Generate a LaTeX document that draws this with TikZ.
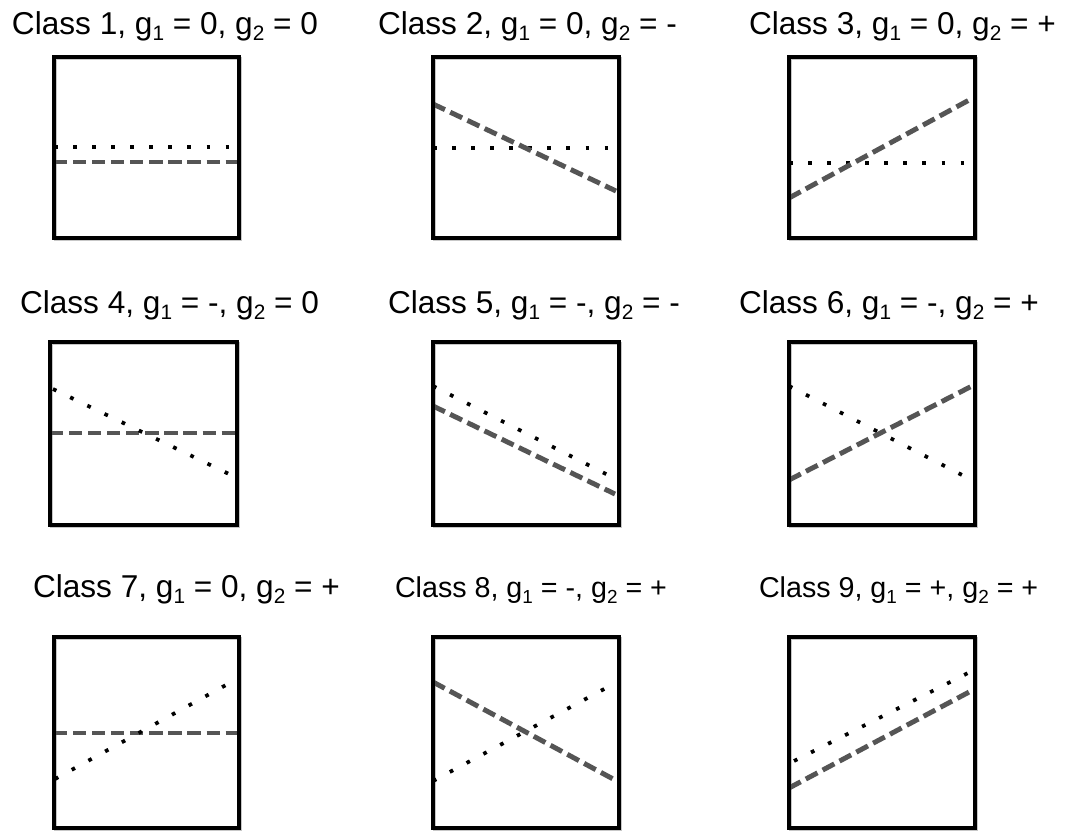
\documentclass[tikz,border=0pt]{standalone}
\usepackage{fontspec}
\usepackage{graphicx}
\setmainfont{Liberation Sans}
\newcommand\lowi[1]{\raisebox{-0.22em}{\scalebox{0.66}{#1}}}
\definecolor{dashgray}{RGB}{85,85,85}
\tikzset{
  boxst/.style={draw=black, line width=2.4pt},
  boxshadow/.style={draw=black!22, line width=2.4pt},
  dashln/.style={draw=dashgray, line width=3.7pt, dash pattern=on 9.9pt off 4.4pt},
  dotln/.style={draw=black, line width=2.8pt, dash pattern=on 2.8pt off 11.5pt},
  ttl/.style={anchor=base west, inner sep=0pt, outer sep=0pt, font=\fontsize{23.7pt}{28pt}\selectfont},
  ttlsmall/.style={anchor=base west, inner sep=0pt, outer sep=0pt, font=\fontsize{21.5pt}{26pt}\selectfont},
}
\begin{document}
\begin{tikzpicture}[x=0.75pt, y=-0.75pt]
\useasboundingbox (0,0) rectangle (1066,832);
\fill[white] (0,0) rectangle (1066,832);

% titles
\node[ttl] (t1) at (12,34) {Class 1, g\lowi{1} = 0, g\lowi{2} = 0};
\node[ttl] (t2) at (378,34) {Class 2, g\lowi{1} = 0, g\lowi{2} = -};
\node[ttl] (t3) at (749,34) {Class 3, g\lowi{1} = 0, g\lowi{2} = +};
\node[ttl] (t4) at (20,313) {Class 4, g\lowi{1} = -, g\lowi{2} = 0};
\node[ttl] (t5) at (388,313) {Class 5, g\lowi{1} = -, g\lowi{2} = -};
\node[ttl] (t6) at (739,313) {Class 6, g\lowi{1} = -, g\lowi{2} = +};
\node[ttl] (t7) at (33,597) {Class 7, g\lowi{1} = 0, g\lowi{2} = +};
\node[ttlsmall] (t8) at (395,597) {Class 8, g\lowi{1} = -, g\lowi{2} = +};
\node[ttlsmall] (t9) at (759,597) {Class 9, g\lowi{1} = +, g\lowi{2} = +};

% box shadows
\foreach \xa/\ya/\xb/\yb in {54/57/239/238, 433/57/619/238, 789/57/975/238,
                              50/342/237/525, 433/342/619/525, 789/342/975/525,
                              54/637/239/828, 433/637/619/828, 789/637/975/828}
  \draw[boxshadow] (\xa+1.6,\ya+1.6) rectangle (\xb+1.6,\yb+1.6);

% row 1
\draw[dotln] (54,147) -- (232,147);
\draw[dashln] (54,162) -- (239,162);
\draw[boxst] (54,57) rectangle (239,238);

\draw[dotln] (433,148) -- (610,148);
\draw[dashln] (433,104) -- (616,191);
\draw[boxst] (433,57) rectangle (619,238);

\draw[dotln] (789,163) -- (968,163);
\draw[dashln] (789,198) -- (971,99);
\draw[boxst] (789,57) rectangle (975,238);

% row 2
\draw[dashln] (50,433) -- (237,433);
\draw[dotln] (53,389) -- (229,474);
\draw[boxst] (50,342) rectangle (237,525);

\draw[dotln] (433,386) -- (608,475);
\draw[dashln] (433,406) -- (615,494);
\draw[boxst] (433,342) rectangle (619,525);

\draw[dotln] (789,386) -- (964,476);
\draw[dashln] (789,480) -- (972,386);
\draw[boxst] (789,342) rectangle (975,525);

% row 3
\draw[dashln] (54,733) -- (239,733);
\draw[dotln] (55,779) -- (226,685);
\draw[boxst] (54,637) rectangle (239,828);

\draw[dashln] (433,682) -- (615,780);
\draw[dotln] (433,781) -- (606,688);
\draw[boxst] (433,637) rectangle (619,828);

\draw[dotln] (794,761) -- (968,673);
\draw[dashln] (789,788) -- (971,691);
\draw[boxst] (789,637) rectangle (975,828);
\end{tikzpicture}
\end{document}
